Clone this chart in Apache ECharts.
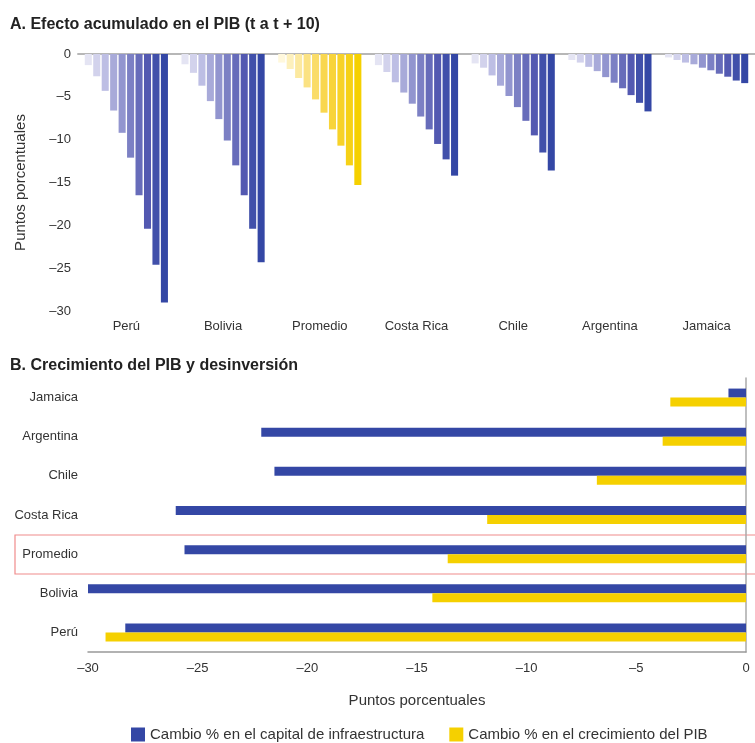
<!DOCTYPE html>
<html><head><meta charset="utf-8">
<script src="https://cdn.jsdelivr.net/npm/echarts@6/dist/echarts.min.js"></script>
<style>html,body{margin:0;padding:0;background:#fff}#c{width:755px;height:743px}</style>
</head><body><div id="c"></div>
<script>
// ---- Data ----
const countries = ['Perú','Bolivia','Promedio','Costa Rica','Chile','Argentina','Jamaica'];
// Panel A: cumulative effect t+1 ... t+10 per country
const peru      = [-1.3,-2.6,-4.3,-6.6,-9.2,-12.1,-16.5,-20.4,-24.6,-29.0];
const bolivia   = [-1.2,-2.2,-3.7,-5.5,-7.6,-10.1,-13.0,-16.5,-20.4,-24.3];
const promedio  = [-1.0,-1.75,-2.8,-3.9,-5.3,-6.85,-8.8,-10.7,-13.0,-15.3];
const costaRica = [-1.3,-2.1,-3.3,-4.5,-5.8,-7.3,-8.8,-10.5,-12.3,-14.2];
const chile     = [-1.1,-1.6,-2.5,-3.7,-4.9,-6.2,-7.8,-9.5,-11.5,-13.6];
const argentina = [-0.7,-1.0,-1.5,-2.0,-2.7,-3.35,-4.0,-4.8,-5.7,-6.7];
const jamaica   = [-0.4,-0.7,-1.0,-1.2,-1.6,-1.9,-2.3,-2.65,-3.1,-3.4];
// Panel B (same country order, bottom to top)
const capitalInfra = [-28.3,-30.0,-25.6,-26.0,-21.5,-22.1,-0.8];
const crecimientoPIB = [-29.2,-14.3,-13.6,-11.8,-6.8,-3.8,-3.45];

const nameBlue = 'Cambio % en el capital de infraestructura';
const nameYellow = 'Cambio % en el crecimiento del PIB';

// ---- Styles ----
const blues = ['#e4e4f3','#d2d2ec','#bdbee4','#a8aad9','#9295cf','#7c80c4','#676cba','#5359b1','#4150aa','#3447a5'];
const yellows = ['#fff8dc','#fdf0bc','#fce9a0','#fbe283','#fadc68','#f9d74f','#f8d43a','#f7d228','#f6d116','#f5d000'];
const FONT = "'Liberation Sans', Arial, sans-serif";
const TXT = '#333';
const fmt = v => (v < 0 ? '\u2013' + Math.abs(v) : String(v));

const groups = [peru, bolivia, promedio, costaRica, chile, argentina, jamaica];
const topSeries = [];
for (let k = 0; k < 10; k++) {
  topSeries.push({
    type: 'bar', xAxisIndex: 0, yAxisIndex: 0,
    barCategoryGap: '14%', barGap: '20%',
    itemStyle: { color: blues[k] },
    data: groups.map((g, i) => i === 2 ? { value: g[k], itemStyle: { color: yellows[k] } } : g[k]),
    silent: true
  });
}

const chart = echarts.init(document.getElementById('c'));
chart.setOption({
  animation: false,
  textStyle: { fontFamily: FONT },
  title: [
    { text: 'A. Efecto acumulado en el PIB (t a t + 10)', left: 5, top: 12,
      textStyle: { fontFamily: FONT, fontSize: 16, fontWeight: 'bold', color: '#222' } },
    { text: 'B. Crecimiento del PIB y desinversión', left: 5, top: 353,
      textStyle: { fontFamily: FONT, fontSize: 16, fontWeight: 'bold', color: '#222' } }
  ],
  legend: {
    data: [nameBlue, nameYellow], left: 126, top: 722,
    icon: 'rect', itemWidth: 14, itemHeight: 14, itemGap: 25,
    textStyle: { fontFamily: FONT, fontSize: 15, color: TXT }
  },
  grid: [
    { left: 78, top: 54, width: 686, height: 257 },
    { left: 88, top: 378, width: 658, height: 274 }
  ],
  xAxis: [
    { type: 'category', gridIndex: 0, data: countries, position: 'bottom',
      axisLine: { lineStyle: { color: '#999', width: 1.5 } }, axisTick: { show: false },
      axisLabel: { fontSize: 13, color: TXT, margin: 9, fontFamily: FONT } },
    { type: 'value', gridIndex: 1, min: -30, max: 0, interval: 5,
      axisLine: { show: true, lineStyle: { color: '#999', width: 1.5 } }, axisTick: { show: false },
      splitLine: { show: false },
      axisLabel: { fontSize: 13, color: TXT, margin: 10, formatter: fmt, fontFamily: FONT },
      name: 'Puntos porcentuales', nameLocation: 'middle', nameGap: 41,
      nameTextStyle: { fontSize: 15, color: TXT, fontFamily: FONT } },
    { type: 'category', gridIndex: 0, data: countries, position: 'top',
      axisLine: { lineStyle: { color: '#bbb', width: 1.5 } }, axisTick: { show: false },
      axisLabel: { show: false } }
  ],
  yAxis: [
    { type: 'value', gridIndex: 0, min: -30, max: 0, interval: 5,
      axisLine: { show: false }, axisTick: { show: false }, splitLine: { show: false },
      axisLabel: { fontSize: 13, color: TXT, margin: 7, formatter: fmt, fontFamily: FONT },
      name: 'Puntos porcentuales', nameLocation: 'middle', nameGap: 50, nameRotate: 90,
      nameTextStyle: { fontSize: 15, color: TXT, fontFamily: FONT } },
    { type: 'category', gridIndex: 1, data: countries,
      axisLine: { show: false }, axisTick: { show: false },
      axisLabel: { fontSize: 13, color: TXT, margin: 10, fontFamily: FONT } },
    { type: 'category', gridIndex: 1, data: countries, position: 'right',
      axisLine: { show: true, lineStyle: { color: '#aaa', width: 1.5 } }, axisTick: { show: false },
      axisLabel: { show: false } }
  ],
  series: topSeries.concat([
    { name: nameBlue, type: 'bar', xAxisIndex: 1, yAxisIndex: 1, barWidth: 9, barGap: '0%',
      itemStyle: { color: '#3447a5' }, data: capitalInfra },
    { name: nameYellow, type: 'bar', xAxisIndex: 1, yAxisIndex: 1, barWidth: 9, barGap: '0%',
      itemStyle: { color: '#f5d000' }, data: crecimientoPIB }
  ]),
  graphic: [
    { type: 'rect', shape: { x: 15, y: 535, width: 760, height: 39 },
      style: { fill: 'none', stroke: '#f08c8c', lineWidth: 1.2 } }
  ]
});
</script>
</body></html>
